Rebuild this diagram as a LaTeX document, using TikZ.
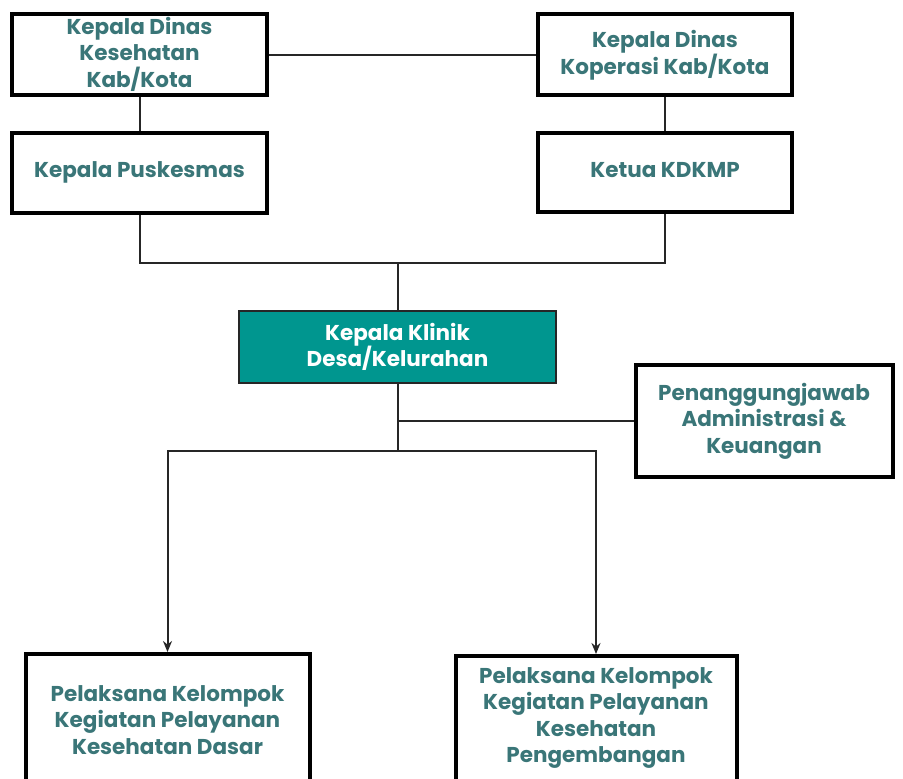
\documentclass[tikz,border=0pt]{standalone}
\usepackage{fontspec}
\setmainfont{Poppins}
\usetikzlibrary{arrows.meta}
\definecolor{txtc}{RGB}{58,118,120}
\definecolor{tealf}{RGB}{0,150,143}
\begin{document}
\begin{tikzpicture}[x=1pt,y=-1pt,
  box/.style={draw=black, line width=4pt, fill=white, inner sep=0pt},
  btext/.style={text=txtc, font=\bfseries\fontsize{21.5}{26.5}\selectfont, align=center, inner sep=0pt},
  conn/.style={draw=black!85, line width=2pt},
  arr/.style={conn, -{Stealth[length=11pt,width=9pt]}}]
\useasboundingbox (0,0) rectangle (903,779);
\fill[white] (0,0) rectangle (903,779);
% top row
\node[box, minimum width=255, minimum height=81] (A) at (139.5,54.5) {};
\node[btext] (At) at (139.5,54) {Kepala Dinas\\Kesehatan\\Kab/Kota};
\node[box, minimum width=254, minimum height=81] (C) at (665,54.5) {};
\node[btext] (Ct) at (665,55) {Kepala Dinas\\Koperasi Kab/Kota};
% second row
\node[box, minimum width=255, minimum height=80] (B) at (139.5,172.5) {};
\node[btext] (Bt) at (139.5,172) {Kepala Puskesmas};
\node[box, minimum width=254, minimum height=79] (D) at (665,172.5) {};
\node[btext] (Dt) at (665,170) {Ketua KDKMP};
% clinic head
\node[draw=black!85, line width=2pt, fill=tealf, minimum width=317, minimum height=72, inner sep=0pt] (K) at (397.5,347) {};
\node[btext, text=white] (Kt) at (397.5,347) {Kepala Klinik\\Desa/Kelurahan};
% administration
\node[box, minimum width=257, minimum height=112] (P) at (764,421) {};
\node[btext] (Pt) at (764,421) {Penanggungjawab\\Administrasi \&\\Keuangan};
% bottom boxes
\node[box, minimum width=284, minimum height=150, anchor=north] (E) at (167.5,652) {};
\node[btext] (Et) at (167.5,720) {Pelaksana Kelompok\\Kegiatan Pelayanan\\Kesehatan Dasar};
\node[box, minimum width=281, minimum height=150, anchor=north] (F) at (596,654) {};
\node[btext] (Ft) at (596,718) {Pelaksana Kelompok\\Kegiatan Pelayanan\\Kesehatan\\Pengembangan};
% junctions
\coordinate (j1) at (397.5,263);
\coordinate (j2) at (397.5,451);
% connectors
\draw[conn] (A.east) -- (C.west);
\draw[conn] (A.south) -- (B.north);
\draw[conn] (C.south) -- (D.north);
\draw[conn] (B.south) |- (j1);
\draw[conn] (D.south) |- (j1);
\draw[conn] (j1) -- (K.north);
\draw[conn] (K.south) -- (j2);
\draw[conn] (K.south |- P.west) -- (P.west);
\draw[arr] (j2) -| (E.north);
\draw[arr] (j2) -| (F.north);
\end{tikzpicture}
\end{document}
